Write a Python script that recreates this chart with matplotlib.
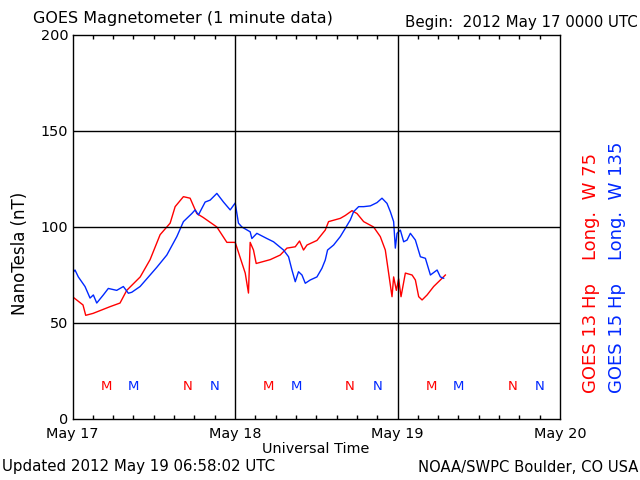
import matplotlib
matplotlib.use("Agg")
import matplotlib.pyplot as plt
import numpy as np

# hours since 2012 May 17 00:00 UT, field in nT
g13_hours = [0.0, 1.55, 1.95, 3.03, 5.54, 7.02, 8.01, 10.0, 11.46, 12.94, 14.42,
             15.16, 16.38, 17.37, 18.36, 19.29, 21.32, 22.80, 24.03, 24.77,
             25.51, 25.99, 26.24, 26.73, 27.13, 29.20, 30.68, 31.67, 32.90,
             33.53, 34.12, 34.63, 36.10, 37.33, 37.82, 39.55, 40.29, 41.28,
             42.02, 43.0, 44.47, 45.46, 46.2, 46.69, 47.19, 47.43, 47.83,
             48.17, 48.52, 49.16, 50.15, 50.64, 51.13, 51.63, 52.37, 53.34,
             54.33, 55.07]
g13_nt = [63.7, 59.4, 54, 55, 58.5, 60.4, 67, 74, 83, 96, 102,
          110.6, 115.8, 115, 107, 105, 100, 92, 92, 84,
          76, 65.6, 92, 88, 81, 83, 85.4, 89, 89.7,
          92.7, 88, 90.6, 93, 98.4, 102.8, 104.5, 106, 108.5,
          107, 102.8, 100, 95, 88, 76, 63.7, 74, 67,
          73, 63.7, 76, 75, 72.4, 63.7, 62, 64.6, 69,
          72.4, 75]

g15_hours = [0.0, 0.37, 0.86, 1.85, 2.59, 3.08, 3.58, 4.55, 5.29, 6.53, 7.51,
             8.25, 8.75, 9.98, 10.97, 12.45, 13.93, 15.41, 16.38, 17.62,
             18.11, 18.60, 19.59, 20.33, 21.32, 22.30, 23.29, 24.03, 24.51,
             25.02, 26.24, 26.49, 27.23, 28.71, 29.69, 31.17, 31.91, 32.41,
             32.90, 33.38, 33.89, 34.38, 35.11, 36.10, 36.84, 37.33, 37.67,
             38.56, 39.55, 40.29, 41.03, 41.52, 42.26, 43.0, 43.99, 44.97,
             45.71, 46.45, 46.94, 47.43, 47.68, 47.93, 48.42, 48.91, 49.41,
             49.90, 50.64, 51.38, 52.12, 52.86, 53.85, 54.33, 54.82]
g15_nt = [76, 77.6, 74, 69, 63, 64.6, 60.4, 64.6, 68, 67, 69,
          65.5, 66, 69, 73, 79, 85.4, 95, 102.8, 107,
          108.9, 106.3, 113, 114, 117.5, 113, 108.9, 112.5, 102,
          100, 97.5, 94, 96.7, 94, 92.3, 88, 84.5, 77.6,
          71.5, 76.7, 75, 70.7, 72.4, 74, 78.5, 82.8, 88,
          90.6, 95, 99.3, 103.7, 108, 110.6, 110.6, 111, 112.7,
          115, 112.3, 108, 102.8, 89, 96.7, 98.4, 92.3, 93.2,
          96.7, 93.2, 84.5, 83.7, 75, 77.6, 74, 73.3]

# local midnight (M) / noon (N) markers, hours UT
g13_marks = [(5, "M"), (17, "N"), (29, "M"), (41, "N"), (53, "M"), (65, "N")]
g15_marks = [(9, "M"), (21, "N"), (33, "M"), (45, "N"), (57, "M"), (69, "N")]

day_labels = ["May 17", "May 18", "May 19", "May 20"]
y_ticks = [0, 50, 100, 150, 200]

RED = "#ff0000"
BLUE = "#0028ff"
FS = 10.4

fig = plt.figure(figsize=(6.4, 4.8), dpi=100)
ax = fig.add_axes([72.5 / 640, 1 - 419 / 480, 487.5 / 640, 384 / 480])

ax.plot(g13_hours, g13_nt, color=RED, lw=1.0)
ax.plot(g15_hours, g15_nt, color=BLUE, lw=1.0)

for h, s in g13_marks:
    ax.text(h, 17, s, color=RED, fontsize=9.5, ha="center", va="center")
for h, s in g15_marks:
    ax.text(h, 17, s, color=BLUE, fontsize=9.5, ha="center", va="center")

ax.set_xlim(0, 72)
ax.set_ylim(0, 200)

# grid at whole days and every 50 nT
for d in (24, 48):
    ax.axvline(d, color="black", lw=1.0)
for v in (50, 100, 150):
    ax.axhline(v, color="black", lw=1.0)

ax.set_xticks([0, 24, 48, 72])
ax.set_xticklabels(day_labels, fontsize=FS)
ax.set_xticks(np.arange(0, 73, 3), minor=True)
ax.tick_params(axis="x", which="minor", direction="in", length=3, width=1,
               top=True, bottom=True)
ax.tick_params(axis="x", which="major", direction="in", length=0, pad=6)
ax.set_yticks(y_ticks)
ax.set_yticklabels([str(v) for v in y_ticks], fontsize=FS)
ax.tick_params(axis="y", direction="in", length=0, pad=3)
for sp in ax.spines.values():
    sp.set_linewidth(1.0)

fig.text(316 / 640, 1 - 449 / 480, "Universal Time", fontsize=FS,
         ha="center", va="center")
fig.text(20 / 640, 1 - 253 / 480, "NanoTesla (nT)", fontsize=12,
         rotation=90, ha="center", va="center")

fig.text(33 / 640, 1 - 18 / 480, "GOES Magnetometer (1 minute data)",
         fontsize=11.5, ha="left", va="center")
fig.text(638 / 640, 1 - 22 / 480, "Begin:  2012 May 17 0000 UTC",
         fontsize=10.8, ha="right", va="center")
fig.text(2 / 640, 1 - 467 / 480, "Updated 2012 May 19 06:58:02 UTC",
         fontsize=10.8, ha="left", va="center")
fig.text(638 / 640, 1 - 467 / 480, "NOAA/SWPC Boulder, CO USA",
         fontsize=10.6, ha="right", va="center")

fig.text(591 / 640, 1 - 393 / 480, "GOES 13 Hp    Long.  W 75", color=RED,
         fontsize=13, rotation=90, ha="center", va="bottom")
fig.text(617 / 640, 1 - 393 / 480, "GOES 15 Hp    Long.  W 135", color=BLUE,
         fontsize=13, rotation=90, ha="center", va="bottom")

fig.savefig("out.png", dpi=100)
